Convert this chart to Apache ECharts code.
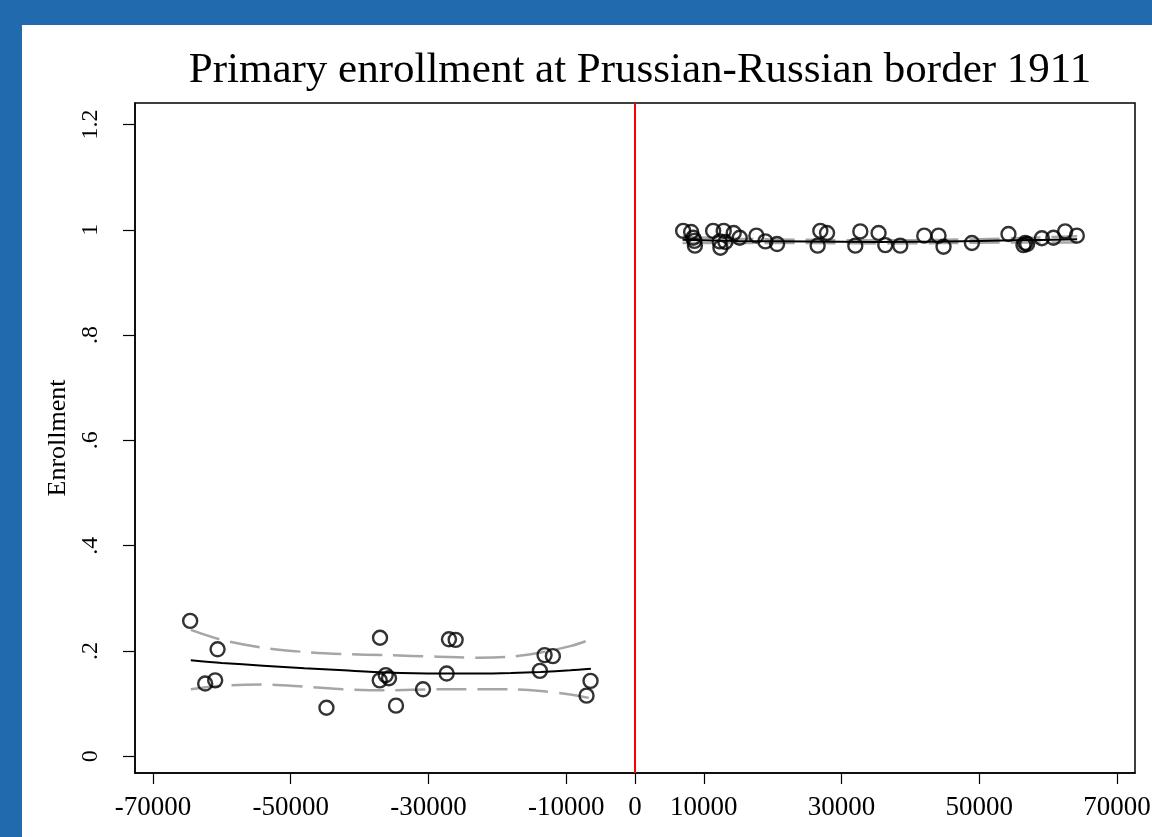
<!DOCTYPE html>
<html>
<head>
    <meta charset="utf-8">
    <script src="https://cdn.jsdelivr.net/npm/echarts@6/dist/echarts.min.js"></script>
    <style>
        html, body { margin: 0; padding: 0; background: #216aae; }
        #main { position: absolute; left: 22px; top: 25px; width: 1130px; height: 812px; background: #fff; }
    </style>
</head>
<body>
    <div id="main"></div>
    <script type="text/javascript">
        // Russian side (distance < 0)
        var leftDist = [-64590, -60612, -62411, -60960, -37023, -37066, -36196, -35717, -44800, -34702,
                        -30785, -27347, -27013, -26041, -13811, -13129, -11925, -6456, -7036];
        var leftEnroll = [0.257, 0.203, 0.138, 0.144, 0.225, 0.144, 0.154, 0.148, 0.092, 0.096,
                          0.127, 0.157, 0.222, 0.221, 0.162, 0.192, 0.190, 0.143, 0.115];

        // Prussian side (distance > 0)
        var rightDist = [6993, 8153, 8443, 8632, 8700, 11345, 12883, 12302, 12404, 13129,
                         14333, 15204, 17627, 18932, 20630, 26520, 26912, 27884, 31989, 32715,
                         35369, 36341, 38517, 41999, 44073, 44799, 48919, 54229, 56405, 56652,
                         56942, 59075, 60757, 62455, 64152];
        var rightEnroll = [0.998, 0.996, 0.985, 0.979, 0.970, 0.998, 0.998, 0.978, 0.966, 0.977,
                           0.994, 0.985, 0.989, 0.978, 0.973, 0.970, 0.998, 0.994, 0.970, 0.997,
                           0.994, 0.971, 0.970, 0.989, 0.989, 0.968, 0.975, 0.992, 0.971, 0.975,
                           0.973, 0.984, 0.985, 0.997, 0.989];

        // quadratic fit with CI, left side
        var leftFitX = [-64500, -60000, -54000, -48000, -42300, -36200, -28600, -22700, -18000, -13700, -9400, -6400];
        var leftFit = [0.182, 0.177, 0.172, 0.167, 0.163, 0.159, 0.157, 0.157, 0.158, 0.160, 0.163, 0.166];
        var leftUpper = [0.240, 0.221, 0.206, 0.198, 0.194, 0.192, 0.189, 0.187, 0.189, 0.197, 0.209, 0.222];
        var leftLower = [0.127, 0.134, 0.136, 0.132, 0.127, 0.125, 0.127, 0.127, 0.127, 0.124, 0.117, 0.110];

        // right side
        var rightFitX = [6900, 15000, 25000, 35000, 45000, 55000, 64200];
        var rightFit = [0.981, 0.979, 0.978, 0.977, 0.978, 0.980, 0.982];
        var rightUpper = [0.987, 0.983, 0.981, 0.980, 0.981, 0.984, 0.988];
        var rightLower = [0.975, 0.975, 0.975, 0.974, 0.975, 0.976, 0.976];

        var xTicks = [-70000, -50000, -30000, -10000, 0, 10000, 30000, 50000, 70000];
        var yTicks = [0, 0.2, 0.4, 0.6, 0.8, 1, 1.2];

        var serif = '"Liberation Serif", "DejaVu Serif", serif';

        function pairs(xs, ys) {
            var res = [];
            for (var i = 0; i < xs.length; i++) res.push([xs[i], ys[i]]);
            return res;
        }

        function fitLine(xs, ys) {
            return {
                type: 'line', data: pairs(xs, ys), showSymbol: false, smooth: 0.3, silent: true, z: 3,
                lineStyle: { color: '#000', width: 2 }
            };
        }
        function ciLine(xs, ys) {
            return {
                type: 'line', data: pairs(xs, ys), showSymbol: false, smooth: 0.3, silent: true, z: 2,
                lineStyle: { color: '#a6a6a6', width: 2.5, type: [30, 11] }
            };
        }

        var myChart = echarts.init(document.getElementById('main'));
        var option = {
            animation: false,
            title: {
                text: 'Primary enrollment at Prussian-Russian border 1911',
                left: 613,
                textAlign: 'center',
                top: 19,
                textStyle: { fontFamily: serif, fontSize: 43, fontWeight: 'normal', color: '#000' }
            },
            grid: {
                left: 113, right: 17, top: 78, bottom: 64,
                show: true, borderColor: '#000', borderWidth: 1.5,
                containLabel: false, outerBoundsMode: 'none'
            },
            xAxis: {
                type: 'value',
                min: -72600, max: 72600,
                splitLine: { show: false },
                axisLine: { show: true, onZero: false, lineStyle: { color: '#000', width: 1.5 } },
                axisTick: { show: true, customValues: xTicks, length: 11, lineStyle: { color: '#000', width: 1.2 } },
                axisLabel: {
                    customValues: xTicks, margin: 21, color: '#000',
                    fontFamily: serif, fontSize: 27,
                    formatter: function (v) { return String(v); }
                }
            },
            yAxis: {
                type: 'value',
                min: -0.032, max: 1.241,
                name: 'Enrollment',
                nameLocation: 'middle',
                nameGap: 62,
                nameRotate: 90,
                nameTextStyle: { fontFamily: serif, fontSize: 26, color: '#000' },
                splitLine: { show: false },
                axisLine: { show: true, onZero: false, lineStyle: { color: '#000', width: 1.5 } },
                axisTick: { show: true, customValues: yTicks, length: 12, lineStyle: { color: '#000', width: 1.2 } },
                axisLabel: {
                    customValues: yTicks, rotate: 90, margin: 44, color: '#000',
                    fontFamily: serif, fontSize: 24, verticalAlign: 'middle', align: 'center',
                    formatter: function (v) {
                        if (v === 0) return '0';
                        return String(+v.toFixed(1)).replace(/^0\./, '.');
                    }
                }
            },
            series: [
                ciLine(leftFitX, leftUpper),
                ciLine(leftFitX, leftLower),
                ciLine(rightFitX, rightUpper),
                ciLine(rightFitX, rightLower),
                fitLine(leftFitX, leftFit),
                fitLine(rightFitX, rightFit),
                {
                    type: 'scatter',
                    name: 'Enrollment',
                    z: 4,
                    data: pairs(leftDist, leftEnroll).concat(pairs(rightDist, rightEnroll)),
                    symbol: 'circle',
                    symbolSize: 14,
                    itemStyle: { color: 'rgba(0,0,0,0)', borderColor: '#000', borderWidth: 2.4 },
                    markLine: {
                        silent: true,
                        symbol: 'none',
                        label: { show: false },
                        lineStyle: { color: '#ff0000', width: 2, type: 'solid' },
                        data: [{ xAxis: 0 }]
                    }
                }
            ]
        };
        myChart.setOption(option);
    </script>
</body>
</html>
